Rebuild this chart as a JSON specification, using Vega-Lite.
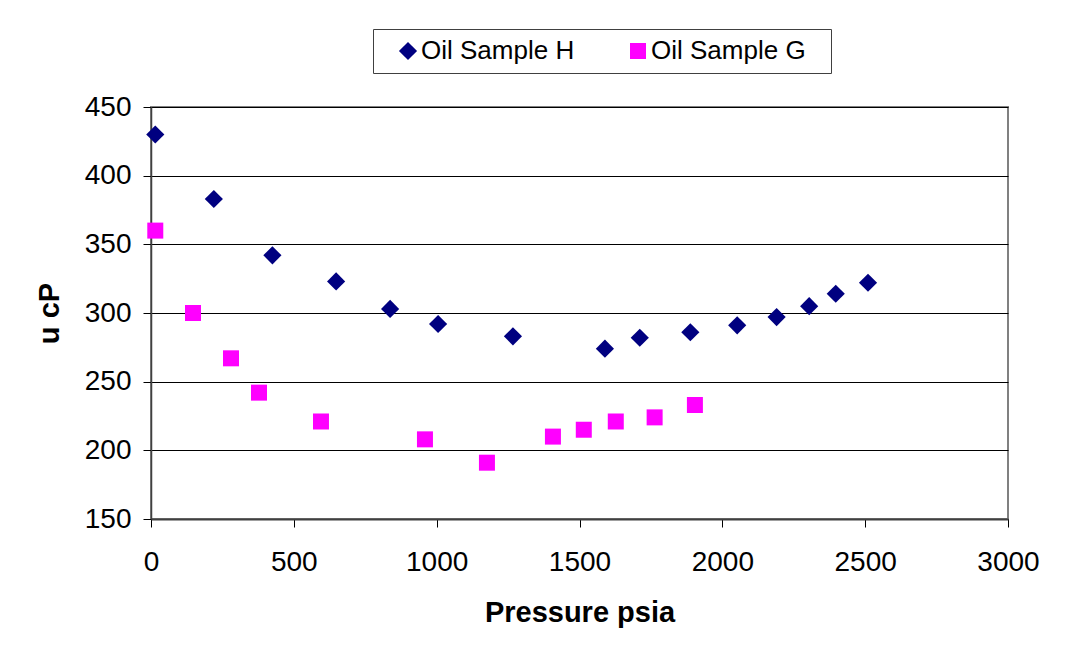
{
  "$schema": "https://vega.github.io/schema/vega-lite/v6.json",
  "width": 857,
  "height": 412,
  "autosize": {"type": "none"},
  "padding": {"left": 151, "top": 107, "right": 80, "bottom": 128},
  "background": "white",
  "config": {
    "font": "Liberation Sans",
    "view": {"stroke": "#808080", "strokeWidth": 2}
  },
  "data": {
    "values": [
      {"sample": "Oil Sample H", "pressure": 15, "viscosity": 430},
      {"sample": "Oil Sample H", "pressure": 220, "viscosity": 383},
      {"sample": "Oil Sample H", "pressure": 425, "viscosity": 342},
      {"sample": "Oil Sample H", "pressure": 648, "viscosity": 323},
      {"sample": "Oil Sample H", "pressure": 837, "viscosity": 303},
      {"sample": "Oil Sample H", "pressure": 1005, "viscosity": 292},
      {"sample": "Oil Sample H", "pressure": 1267, "viscosity": 283},
      {"sample": "Oil Sample H", "pressure": 1589, "viscosity": 274},
      {"sample": "Oil Sample H", "pressure": 1711, "viscosity": 282},
      {"sample": "Oil Sample H", "pressure": 1888, "viscosity": 286},
      {"sample": "Oil Sample H", "pressure": 2052, "viscosity": 291},
      {"sample": "Oil Sample H", "pressure": 2190, "viscosity": 297},
      {"sample": "Oil Sample H", "pressure": 2304, "viscosity": 305},
      {"sample": "Oil Sample H", "pressure": 2397, "viscosity": 314},
      {"sample": "Oil Sample H", "pressure": 2510, "viscosity": 322},
      {"sample": "Oil Sample G", "pressure": 15, "viscosity": 360},
      {"sample": "Oil Sample G", "pressure": 147, "viscosity": 300},
      {"sample": "Oil Sample G", "pressure": 280, "viscosity": 267},
      {"sample": "Oil Sample G", "pressure": 378, "viscosity": 242},
      {"sample": "Oil Sample G", "pressure": 595, "viscosity": 221},
      {"sample": "Oil Sample G", "pressure": 959, "viscosity": 208},
      {"sample": "Oil Sample G", "pressure": 1176, "viscosity": 191},
      {"sample": "Oil Sample G", "pressure": 1407, "viscosity": 210},
      {"sample": "Oil Sample G", "pressure": 1515, "viscosity": 215},
      {"sample": "Oil Sample G", "pressure": 1627, "viscosity": 221},
      {"sample": "Oil Sample G", "pressure": 1763, "viscosity": 224},
      {"sample": "Oil Sample G", "pressure": 1904, "viscosity": 233}
    ]
  },
  "mark": {"type": "point", "filled": true, "opacity": 1},
  "encoding": {
    "x": {
      "field": "pressure",
      "type": "quantitative",
      "scale": {"domain": [0, 3000], "nice": false},
      "axis": {
        "title": "Pressure psia",
        "values": [0, 500, 1000, 1500, 2000, 2500, 3000],
        "format": "d",
        "grid": false,
        "labelFontSize": 28,
        "labelColor": "black",
        "labelFlush": false,
        "labelPadding": 21,
        "tickSize": 8,
        "tickColor": "black",
        "domainColor": "#404040",
        "domainWidth": 2,
        "titleFontSize": 29,
        "titleFontWeight": "bold",
        "titleColor": "black",
        "titlePadding": 22
      }
    },
    "y": {
      "field": "viscosity",
      "type": "quantitative",
      "scale": {"domain": [150, 450], "nice": false, "zero": false},
      "axis": {
        "title": "u cP",
        "values": [150, 200, 250, 300, 350, 400, 450],
        "grid": true,
        "gridColor": "black",
        "gridWidth": 1,
        "gridOpacity": 1,
        "labelFontSize": 28,
        "labelColor": "black",
        "labelPadding": 12,
        "tickSize": 8,
        "tickColor": "black",
        "domainColor": "#404040",
        "domainWidth": 1.5,
        "titleFontSize": 29,
        "titleFontWeight": "bold",
        "titleColor": "black",
        "titlePadding": 20
      }
    },
    "size": {
      "field": "sample",
      "type": "nominal",
      "scale": {"domain": ["Oil Sample H", "Oil Sample G"], "range": [330, 256]},
      "legend": null
    },
    "color": {
      "field": "sample",
      "type": "nominal",
      "scale": {"domain": ["Oil Sample H", "Oil Sample G"], "range": ["#000080", "#FF00FF"]},
      "legend": {
        "orient": "none",
        "legendX": 222,
        "legendY": -78,
        "direction": "horizontal",
        "title": "\u00a0",
        "titleOrient": "right",
        "titleFontSize": 26,
        "titlePadding": 16,
        "labelFontSize": 26,
        "labelColor": "black",
        "symbolOffset": 13,
        "labelOffset": 0,
        "labelLimit": 400,
        "columnPadding": 37,
        "symbolSize": 280,
        "symbolStrokeWidth": 0,
        "symbolOpacity": 1,
        "padding": 9,
        "strokeColor": "#404040",
        "fillColor": "white"
      }
    },
    "shape": {
      "field": "sample",
      "type": "nominal",
      "scale": {"domain": ["Oil Sample H", "Oil Sample G"], "range": ["diamond", "square"]}
    }
  }
}
